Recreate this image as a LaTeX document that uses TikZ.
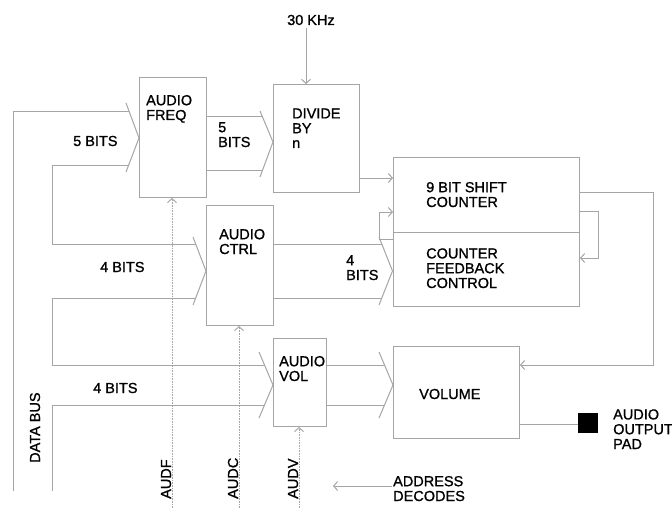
\documentclass[tikz,border=0pt]{standalone}
\usepackage{fontspec}
\setmainfont{Liberation Sans}[FakeBold=1]
\usetikzlibrary{arrows.meta}
\definecolor{lc}{RGB}{165,165,165}
\begin{document}
\begin{tikzpicture}[x=1pt, y=-1pt, font=\fontsize{14.5}{14.8}\selectfont,
  box/.style={draw=lc, line width=1pt, inner sep=0pt, anchor=north west},
  ln/.style={draw=lc, line width=1pt},
  arr/.style={ln, -{Straight Barb[length=4pt,width=9pt]}},
  dotl/.style={draw=lc, line width=0.9pt, dash pattern=on 0.8pt off 0.8pt},
  txt/.style={inner sep=0pt, anchor=base west, align=left}]
\useasboundingbox[fill=white] (0,0) rectangle (672,508);

% boxes
\node[box, minimum width=67pt, minimum height=120pt] (freq) at (139,77) {};
\node[box, minimum width=86pt, minimum height=108pt] (divide) at (273,84) {};
\node[box, minimum width=67pt, minimum height=120pt] (ctrl) at (206,205) {};
\node[box, minimum width=53pt, minimum height=88pt] (vol) at (273,338) {};
\node[box, minimum width=186pt, minimum height=75pt] (shift) at (393,157) {};
\node[box, minimum width=186pt, minimum height=74pt] (fb) at (393,232) {};
\node[box, minimum width=126pt, minimum height=92pt] (volume) at (393,346) {};
\node[fill=black, inner sep=0pt, minimum size=20pt, anchor=north west] (pad) at (578,413) {};

% texts (base = baseline of last line)
\node[txt] (t30) at (287,25) {30 KHz};
\node[txt] (tfreq) at (146,120) {AUDIO\\FREQ};
\node[txt] (t5a) at (73,146) {5 BITS};
\node[txt] (t5b) at (218,147) {5\\BITS};
\node[txt] (tdiv) at (292,148) {DIVIDE\\BY\\n};
\node[txt] (tshift) at (426,207) {9 BIT SHIFT\\COUNTER};
\node[txt] (tfb) at (426,288) {COUNTER\\FEEDBACK\\CONTROL};
\node[txt] (tctrl) at (219,254) {AUDIO\\CTRL};
\node[txt] (t4a) at (100,272) {4 BITS};
\node[txt] (t4b) at (346,280) {4\\BITS};
\node[txt] (t4c) at (93,393) {4 BITS};
\node[txt] (tvol) at (279,381) {AUDIO\\VOL};
\node[txt] (tvolume) at (419,399) {VOLUME};
\node[txt] (tpad) at (613,449) {AUDIO\\OUTPUT\\PAD};
\node[txt] (taddr) at (393,501) {ADDRESS\\DECODES};
\node[txt, rotate=90] (tbus) at (40,463) {DATA BUS};
\node[txt, rotate=90] (taudf) at (171,499) {AUDF};
\node[txt, rotate=90] (taudc) at (238,499) {AUDC};
\node[txt, rotate=90] (taudv) at (298,499) {AUDV};

% bus chevrons
\draw[ln] (126,103) -- (freq.west |- 0,138) -- (126,172);
\draw[ln] (260,111) -- (divide.west |- 0,142) -- (260,177);
\draw[ln] (193,237) -- (ctrl.west |- 0,271) -- (193,305);
\draw[ln] (379,237) -- (392.5,271) -- (379,305);
\draw[ln] (259,352) -- (vol.west |- 0,385) -- (259,418);
\draw[ln] (379,352) -- (volume.west |- 0,385) -- (379,418);

% data bus lines
\coordinate (busA) at (13,491);
\coordinate (busB) at (52,491);
\draw[ln] (busA) -- (13,112) -- (129.3,112);
\draw[ln] (128.3,166) -- (52,166) -- (52,244) -- (195.7,244);
\draw[ln] (195.7,298) -- (52,298) -- (52,365) -- (264.5,365);
\draw[ln] (264.5,405) -- (52,405) -- (busB);

% internal buses
\draw[ln] (freq.east |- 0,117) -- (262.5,117);
\draw[ln] (freq.east |- 0,170) -- (262.6,170);
\draw[ln] (ctrl.east |- 0,244) -- (381.7,244);
\draw[ln] (ctrl.east |- 0,298) -- (381.7,298);
\draw[ln] (vol.east |- 0,365) -- (384.5,365);
\draw[ln] (vol.east |- 0,405) -- (384.5,405);

% arrows
\draw[arr] (t30.south -| 306,0) ++(0,3) -- (divide.north -| 306,0);
\draw[arr] (divide.east |- 0,178) -- (shift.west |- 0,178);
\draw[arr] (fb.west |- 0,239) -- (379,239) -- (379,212) -- (shift.west |- 0,212);
\draw[arr] (shift.east |- 0,211) -- (598,211) -- (598,258) -- (fb.east |- 0,258);
\draw[arr] (shift.east |- 0,192) -- (653,192) -- (653,365) -- (volume.east |- 0,365);
\draw[ln] (volume.east |- 0,424) -- (pad.west |- 0,424);
\draw[arr] (taddr.west |- 0,486) ++(-1,0) -- (333,486);

% address lines (dotted)
\draw[dotl, -{Straight Barb[length=4pt,width=9pt]}] (172,508) -- (freq.south -| 172,0);
\draw[dotl, -{Straight Barb[length=4pt,width=9pt]}] (239,508) -- (ctrl.south -| 239,0);
\draw[dotl, -{Straight Barb[length=4pt,width=9pt]}] (299,508) -- (vol.south -| 299,0);
\end{tikzpicture}
\end{document}
